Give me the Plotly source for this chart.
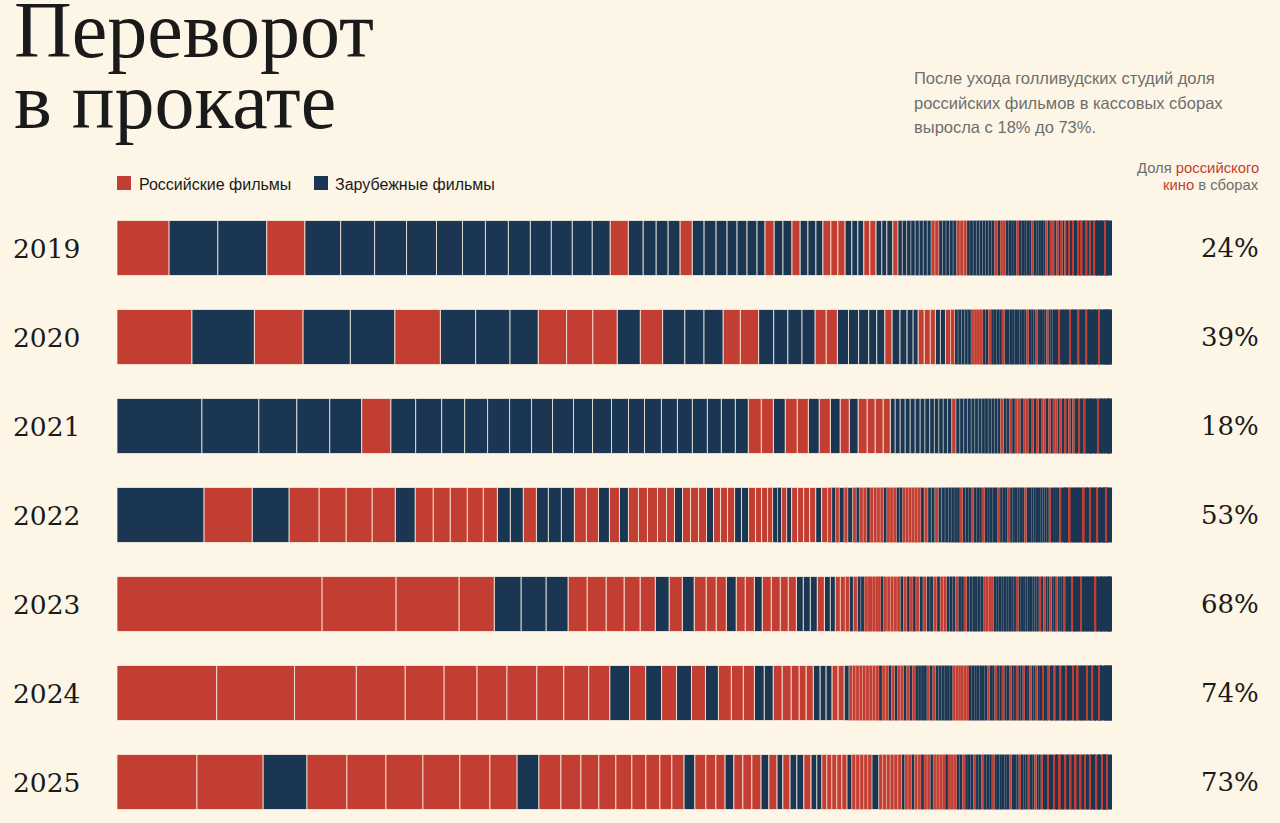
import numpy as np
import plotly.graph_objects as go

################################################################################
#### Data: box office share of every film, sorted by size; R = Russian, F = foreign
################################################################################

YEARS = ["2019", "2020", "2021", "2022", "2023", "2024", "2025"]
RU_SHARE_PCT = [24, 39, 18, 53, 68, 74, 73]

SHARE_2019 = [
    52, 49, 49, 38, 36, 34, 32, 30,
    26, 23, 23, 22, 21, 21, 20, 18,
    18, 15, 13, 12, 12, 12, 12, 12,
    11, 10, 10, 10, 8, 9, 9, 9,
    8, 8, 8, 7, 8, 7, 7, 7,
    6, 6, 6, 6, 6, 5, 6, 5,
    4.5, 4.4, 4.3, 4.2, 4.1, 4.0, 4.0, 3.9,
    3.8, 3.8, 3.7, 3.6, 3.6, 3.5, 3.5, 3.4,
    3.4, 3.3, 3.3, 3.2, 3.2, 3.1, 3.1, 3.0,
    3.0, 3.0, 2.9, 2.9, 2.8, 2.8, 2.8, 2.7,
    2.7, 2.7, 2.6, 2.6, 2.6, 2.5, 2.5, 2.5,
    2.4, 2.4, 2.4, 2.3, 2.3, 2.3, 2.3, 2.2,
    2.2, 2.2, 2.1, 2.1, 2.1, 2.0, 2.0, 2.0,
    2.0, 1.9, 1.9, 1.9, 1.8, 1.8, 1.8, 1.8,
    1.7, 1.7, 1.7, 1.6, 1.6, 1.6, 1.5, 1.5,
    1.5, 1.5, 1.4, 1.4, 1.4, 1.3, 1.3, 1.3,
    1.2, 1.2, 1.2, 1.1, 1.1, 1.0, 1.0, 1.0,
]
ORIGIN_2019 = (
    "RFFRFFFF" "FFFFFFFF" "RFFFFRFF" "FFFFFRFF" "RFFFRRRF" "FFRRFFFR"
    "FFFFFFFF" "RRFFFFFR" "RRFFFFFF" "FFFRFRRF" "FFFRFFFF" "FRFFFFFR"
    "FRRFRFRF" "RFRFRFFR" "FRFFRFRF" "FRFFFFFF" "FRFFFFFF"
)

SHARE_2020 = [
    74, 62, 48, 47, 44, 45, 35, 34,
    28, 28, 26, 24, 23, 22, 22, 19,
    19, 17, 18, 15, 14, 14, 13, 11,
    11, 11, 10, 10, 8, 8, 7, 8,
    7, 6, 5, 6, 6, 5, 5, 5,
    5, 4, 3.5, 3.3, 3.2, 3.2, 3.1, 3.0,
    2.9, 2.9, 2.8, 2.8, 2.8, 2.7, 2.7, 2.7,
    2.6, 2.6, 2.6, 2.5, 2.5, 2.5, 2.5, 2.4,
    2.4, 2.4, 2.3, 2.3, 2.3, 2.3, 2.2, 2.2,
    2.2, 2.1, 2.1, 2.1, 2.1, 2.0, 2.0, 2.0,
    2.0, 1.9, 1.9, 1.9, 1.9, 1.8, 1.8, 1.8,
    1.8, 1.7, 1.7, 1.7, 1.7, 1.6, 1.6, 1.6,
    1.6, 1.5, 1.5, 1.5, 1.5, 1.4, 1.4, 1.4,
    1.4, 1.3, 1.3, 1.3, 1.3, 1.2, 1.2, 1.2,
    1.2, 1.1, 1.1, 1.1, 1.1, 1.0, 1.0, 1.0,
]
ORIGIN_2020 = (
    "RFRFFRFF" "FRRRFRFF" "FRRFFFFR" "RFFFFFRF" "FFFRRRFF" "RRFFFFFR"
    "RRRFFRFF" "FFRFFFFF" "FFFFRFFF" "RFFFFRFF" "FFFRFFFF" "FRFFFFRF"
    "FFFRFFFF" "FFFFRFFF" "FFFFFFFF"
)

SHARE_2021 = [
    85, 57, 38, 33, 32, 29, 25, 26,
    23, 23, 22, 22, 21, 21, 19, 19,
    17, 16, 17, 16, 15, 15, 14, 14,
    13, 13, 12, 12, 12, 11, 11, 11,
    10, 9, 9, 9, 8, 8, 7, 5,
    5, 5, 5, 5, 5, 4.8, 4.8, 4.6,
    4.5, 4.4, 4.3, 4.2, 4.1, 4.0, 3.9, 3.8,
    3.7, 3.6, 3.5, 3.4, 3.3, 3.2, 3.2, 3.1,
    3.0, 3.0, 3.0, 2.9, 2.9, 2.8, 2.8, 2.8,
    2.7, 2.7, 2.7, 2.6, 2.6, 2.6, 2.5, 2.5,
    2.5, 2.4, 2.4, 2.4, 2.3, 2.3, 2.3, 2.3,
    2.2, 2.2, 2.2, 2.1, 2.1, 2.1, 2.0, 2.0,
    2.0, 1.9, 1.9, 1.9, 1.8, 1.8, 1.8, 1.7,
    1.7, 1.7, 1.6, 1.6, 1.6, 1.5, 1.5, 1.5,
    1.4, 1.4, 1.4, 1.3, 1.3, 1.2, 1.2, 1.0,
]
ORIGIN_2021 = (
    "FFFFFRFF" "FFFFFFFF" "FFFFFFFF" "FRRFRRFR" "FRFRRRRF" "FFFFFFFF"
    "FFFFRFFF" "FFFFFFFF" "FFRFFRFR" "RFRRFRFR" "FRRFRFRR" "FRFRFRFR"
    "FFRFFRFF" "FFFFFRFF" "FFFFFFFF"
)

SHARE_2022 = [
    87, 48, 37, 30, 27, 26, 23, 20,
    18, 17, 17, 16, 14, 13, 13, 13,
    12, 13, 13, 12, 12, 11, 10, 9,
    10, 9, 10, 9, 8, 8, 8, 8,
    8, 7, 7, 7, 7, 7, 7, 7,
    6, 6, 5, 5, 4, 5, 5, 6,
    6, 6, 6, 6, 6, 4, 4, 3.5,
    5, 3.5, 5, 3.5, 3.5, 3.5, 3.5, 3.4,
    3.4, 3.4, 3.3, 3.3, 3.3, 3.2, 3.2, 3.2,
    3.1, 3.1, 3.1, 3.0, 3.0, 3.0, 3.0, 2.9,
    3.6, 3.6, 3.5, 3.5, 3.4, 3.4, 3.4, 3.3,
    2.9, 2.9, 2.9, 2.8, 2.8, 2.8, 2.8, 2.8,
    2.7, 2.7, 2.7, 2.7, 2.7, 2.6, 2.6, 2.6,
    2.6, 2.6, 2.5, 2.5, 2.5, 2.5, 2.5, 2.4,
    2.4, 2.4, 2.4, 2.4, 2.3, 2.3, 2.3, 2.3,
    2.3, 2.2, 2.2, 2.2, 2.2, 2.2, 2.1, 2.1,
    2.1, 2.1, 2.0, 2.0, 2.0, 2.0, 2.0, 1.9,
    1.9, 1.9, 1.9, 1.8, 1.8, 1.8, 1.8, 1.7,
    1.7, 1.7, 1.7, 1.6, 1.6, 1.6, 1.5, 1.5,
    1.5, 1.4, 1.4, 1.4, 1.3, 1.3, 1.3, 1.2,
    1.2, 1.2, 1.1, 1.1, 1.1, 1.0, 1.0, 1.0,
]
ORIGIN_2022 = (
    "FRFRRRRF" "RRRRRFFR" "FFFRRFRF" "RRRRRFRR" "RFRRRFFR" "RRRFFRFR"
    "RRRFRRFR" "FRFRFRRF" "RRRRFRRR" "FFRRRRRR" "FRFFRFFF" "FFFFRFFF"
    "RFFFRFFF" "FFRFFFRF" "FFFFFRFF" "FFFFFFFF" "RFFFFRFF" "FFRFFFFF"
    "FFRFFFRF" "FFFRFFFF" "FFRFFFFF"
)

SHARE_2023 = [
    205, 74, 63, 35, 27, 25, 22, 19,
    19, 18, 16, 15, 14, 13, 12, 12,
    10, 10, 10, 9, 9, 8, 9, 9,
    8, 8, 7, 7, 7, 7, 6, 5,
    5, 5, 4, 4, 4, 3.5, 3.5, 2.8,
    2.8, 2.7, 2.7, 2.7, 2.6, 3.0, 3.4, 3.4,
    3.3, 3.3, 3.2, 3.2, 3.2, 3.1, 3.1, 3.0,
    3.6, 3.5, 3.5, 3.5, 3.4, 3.4, 3.4, 3.3,
    3.0, 3.0, 2.9, 2.9, 2.9, 2.9, 2.8, 2.8,
    2.8, 2.8, 2.7, 2.7, 2.7, 2.7, 2.7, 2.6,
    2.6, 2.6, 2.6, 2.5, 2.5, 2.5, 2.5, 2.5,
    2.4, 2.4, 2.4, 2.4, 2.4, 2.3, 2.3, 2.3,
    2.3, 2.3, 2.2, 2.2, 2.2, 2.2, 2.2, 2.1,
    2.1, 2.1, 2.1, 2.1, 2.0, 2.0, 2.0, 2.0,
    2.0, 1.9, 1.9, 1.9, 1.9, 1.8, 1.8, 1.8,
    1.8, 1.7, 1.7, 1.7, 1.7, 1.6, 1.6, 1.6,
    1.6, 1.5, 1.5, 1.5, 1.5, 1.4, 1.4, 1.4,
    1.4, 1.3, 1.3, 1.3, 1.2, 1.2, 1.2, 1.1,
]
ORIGIN_2023 = (
    "RRRRFFFR" "RRRRFRFR" "RRFRRFRR" "RRFFFRFF" "RRRFRFFR" "RRRRRFRR"
    "RRRFRFRF" "RFRFFRFR" "RFFFRFFR" "FFFFFFRR" "RRFFFFFF" "FFFRFFFF"
    "FFFFFRFR" "FFRFFRFF" "FRFFFRFF" "FFRFFFFF" "FFFRFFFF" "FFFFFFFF"
)

SHARE_2024 = [
    100, 78, 62, 49, 39, 33, 30, 30,
    27, 25, 21, 20, 16, 16, 15, 15,
    14, 13, 13, 12, 11, 10, 9, 9,
    9, 8, 7, 7, 7, 6, 6, 6,
    6, 5, 3.4, 3.4, 3.4, 3.3, 3.3, 3.3,
    3.3, 3.3, 3.2, 3.2, 3.2, 3.1, 3.1, 3.1,
    3.0, 3.0, 3.0, 3.0, 2.9, 2.9, 2.9, 2.9,
    3.0, 2.9, 2.9, 2.9, 2.9, 2.9, 2.9, 2.9,
    2.9, 2.8, 2.8, 2.8, 2.8, 2.8, 2.7, 2.7,
    2.7, 2.7, 2.7, 2.6, 2.6, 2.6, 2.6, 2.6,
    2.5, 2.5, 2.5, 2.5, 2.5, 2.4, 2.4, 2.4,
    2.4, 2.4, 2.3, 2.3, 2.3, 2.3, 2.3, 2.2,
    2.2, 2.2, 2.2, 2.2, 2.1, 2.1, 2.1, 2.1,
    2.1, 2.0, 2.0, 2.0, 2.0, 2.0, 1.9, 1.9,
    1.9, 1.9, 1.9, 1.8, 1.8, 1.8, 1.8, 1.7,
    1.7, 1.7, 1.7, 1.6, 1.6, 1.6, 1.6, 1.5,
    1.5, 1.5, 1.5, 1.4, 1.4, 1.4, 1.3, 1.3,
    1.3, 1.3, 1.2, 1.2, 1.2, 1.2, 1.1, 1.1,
    1.1, 1.0, 1.0, 1.0, 1.0, 1.0, 0.9, 0.9,
]
ORIGIN_2024 = (
    "RRRRRRRR" "RRRFRFRF" "RFRRRFFR" "RRRRFFFR" "RFRRRRRR" "RRRFRRFR"
    "FRRFRFRF" "FFFRFRFF" "FFFFRRRR" "RRFFFFFF" "FRFFRFFR" "FFRFFRFF"
    "RFFRFFRF" "FRFFRFFR" "FFRFFRFF" "FRFFRFFF" "FFRFFFRF" "FFFRFFFF"
    "FFFFFFFF"
)

SHARE_2025 = [
    80, 66, 44, 40, 39, 37, 37, 30,
    27, 22, 22, 20, 18, 17, 16, 14,
    14, 12, 12, 11, 11, 10, 9, 9,
    9, 9, 9, 8, 8, 6, 7, 7,
    7, 7, 6, 5, 5, 5, 5, 5,
    5, 5, 4, 4, 4, 4, 4, 7,
    3.8, 3.8, 3.8, 3.8, 3.7, 3.7, 3.3, 3.3,
    3.3, 3.2, 3.2, 3.2, 3.1, 3.1, 3.1, 3.0,
    3.0, 3.0, 3.0, 2.9, 2.9, 2.9, 2.9, 2.9,
    2.8, 2.8, 2.8, 2.8, 2.7, 2.7, 2.7, 2.7,
    2.7, 2.6, 2.6, 2.6, 2.6, 2.6, 2.5, 2.5,
    2.5, 2.5, 2.4, 2.4, 2.4, 2.4, 2.4, 2.3,
    2.3, 2.3, 2.3, 2.2, 2.2, 2.2, 2.2, 2.2,
    2.1, 2.1, 2.1, 2.1, 2.0, 2.0, 2.0, 2.0,
    2.0, 1.9, 1.9, 1.9, 1.9, 1.8, 1.8, 1.8,
    1.8, 1.7, 1.7, 1.7, 1.7, 1.6, 1.6, 1.6,
    1.6, 1.5, 1.5, 1.5, 1.5, 1.4, 1.4, 1.4,
    1.4, 1.3, 1.3, 1.3, 1.3, 1.2, 1.2, 1.2,
    1.2, 1.1, 1.1, 1.1, 1.1, 1.0, 1.0, 1.0,
]
ORIGIN_2025 = (
    "RRFRRRRR" "RFRRRRRR" "RRRFRRRF" "RRRFRFRF" "FRFFRRRR" "RFRRRRRF"
    "RRRRRRFR" "RFRRFRRF" "RRRRFRRR" "FFRFFFRF" "FRFFFRFF" "FFFFRFFF"
    "RFFFRFFR" "FFRFFRFF" "RFFRFFRF" "FRFFRFFR" "FFRFFRFF" "FFRFFFRF"
    "FFFRFFFF"
)

ROWS = [
    (SHARE_2019, ORIGIN_2019),
    (SHARE_2020, ORIGIN_2020),
    (SHARE_2021, ORIGIN_2021),
    (SHARE_2022, ORIGIN_2022),
    (SHARE_2023, ORIGIN_2023),
    (SHARE_2024, ORIGIN_2024),
    (SHARE_2025, ORIGIN_2025),
]

################################################################################
#### Style
################################################################################

BG = "#fdf6e6"
RED = "#c33e32"
NAVY = "#1b3652"
SEP = "rgba(253,246,230,0.75)"
INK = "#1a1a1a"
GREY = "#6e6e6e"
SERIF = "Liberation Serif, DejaVu Serif, serif"
NUMS = "DejaVu Serif, Liberation Serif, serif"
SANS = "Liberation Sans, Arial, sans-serif"

W, H = 1280, 823
ML, MR, MT, MB = 117, 168, 204, 0
PW, PH = W - ML - MR, H - MT - MB
ROW_PX = 89
BAR_PX = 55
FIRST_ROW_PX = 248  # centre of the 2019 bar


def _px_x(px: float) -> float:
    return (px - ML) / PW


def _px_y(py: float) -> float:
    return (H - MB - py) / PH


def _row_y(i: int) -> float:
    return FIRST_ROW_PX + i * ROW_PX


def _text(x, y, text, *, size, color=INK, family=SANS, xanchor="left"):
    return dict(
        x=_px_x(x), y=_px_y(y), xref="paper", yref="paper",
        text=text, showarrow=False, xanchor=xanchor, yanchor="middle",
        align=xanchor, font=dict(family=family, size=size, color=color),
    )


def _build_bars() -> list[go.Bar]:
    parts = {"R": ([], [], [], []), "F": ([], [], [], [])}
    for i, (shares, origins) in enumerate(ROWS):
        w = np.array(shares, dtype=float)
        w = w / w.sum() * 100
        base = np.concatenate([[0.0], np.cumsum(w)[:-1]])
        for wi, bi, o in zip(w, base, origins):
            ys, xs, bs, lw = parts[o]
            ys.append(i)
            xs.append(wi)
            bs.append(bi)
            # separators fade out on the thin slivers of the long tail
            seg_px = wi * PW / 100
            lw.append(float(np.clip((seg_px - 2.6) / 3.0, 0.0, 1.0)))

    bars = []
    for o, color in (("F", NAVY), ("R", RED)):
        ys, xs, bs, lw = parts[o]
        bars.append(
            go.Bar(
                orientation="h", y=ys, x=xs, base=bs,
                width=BAR_PX / ROW_PX,
                marker=dict(color=color, line=dict(color=SEP, width=lw)),
                hoverinfo="skip",
            )
        )
    return bars


def _build_annotations() -> list[dict]:
    ann = [
        _text(12, 30, "Переворот", size=80, family=SERIF),
        _text(12, 101, "в прокате", size=80, family=SERIF),
        _text(912, 78, "После ухода голливудских студий доля", size=16.5, color=GREY),
        _text(912, 103, "российских фильмов в кассовых сборах", size=16.5, color=GREY),
        _text(912, 127, "выросла с 18% до 73%.", size=16.5, color=GREY),
        _text(137, 184, "Российские фильмы", size=16),
        _text(333, 184, "Зарубежные фильмы", size=16),
        _text(1261, 168, f'Доля <span style="color:{RED}">российского</span>',
              size=14.8, color=GREY, xanchor="right"),
        _text(1261, 185, f'<span style="color:{RED}">кино</span> в сборах',
              size=14.8, color=GREY, xanchor="right"),
    ]
    for i, (year, pct) in enumerate(zip(YEARS, RU_SHARE_PCT)):
        ann.append(_text(11, _row_y(i), year, size=26.5, family=NUMS))
        ann.append(_text(1261, _row_y(i), f"{pct}%", size=26, family=NUMS, xanchor="right"))
    return ann


def _legend_shapes() -> list[dict]:
    shapes = []
    for x0, color in ((117, RED), (314, NAVY)):
        shapes.append(dict(
            type="rect", xref="paper", yref="paper", line=dict(width=0),
            x0=_px_x(x0), x1=_px_x(x0 + 14), y0=_px_y(190), y1=_px_y(176),
            fillcolor=color,
        ))
    return shapes


y_bottom = (H - MB - FIRST_ROW_PX) / ROW_PX
y_top = -(FIRST_ROW_PX - MT) / ROW_PX

fig = go.Figure(data=_build_bars())
fig.update_layout(
    width=W, height=H,
    margin=dict(l=ML, r=MR, t=MT, b=MB, pad=0),
    paper_bgcolor=BG, plot_bgcolor=BG,
    barmode="overlay", showlegend=False, hovermode=False,
    xaxis=dict(range=[0, 100], visible=False, fixedrange=True),
    yaxis=dict(range=[y_bottom, y_top], visible=False, fixedrange=True),
    annotations=_build_annotations(),
    shapes=_legend_shapes(),
)
fig.write_html(
    "out.html",
    config=dict(displayModeBar=False),
    post_script=f"document.body.style.margin='0';document.body.style.background='{BG}';",
)
